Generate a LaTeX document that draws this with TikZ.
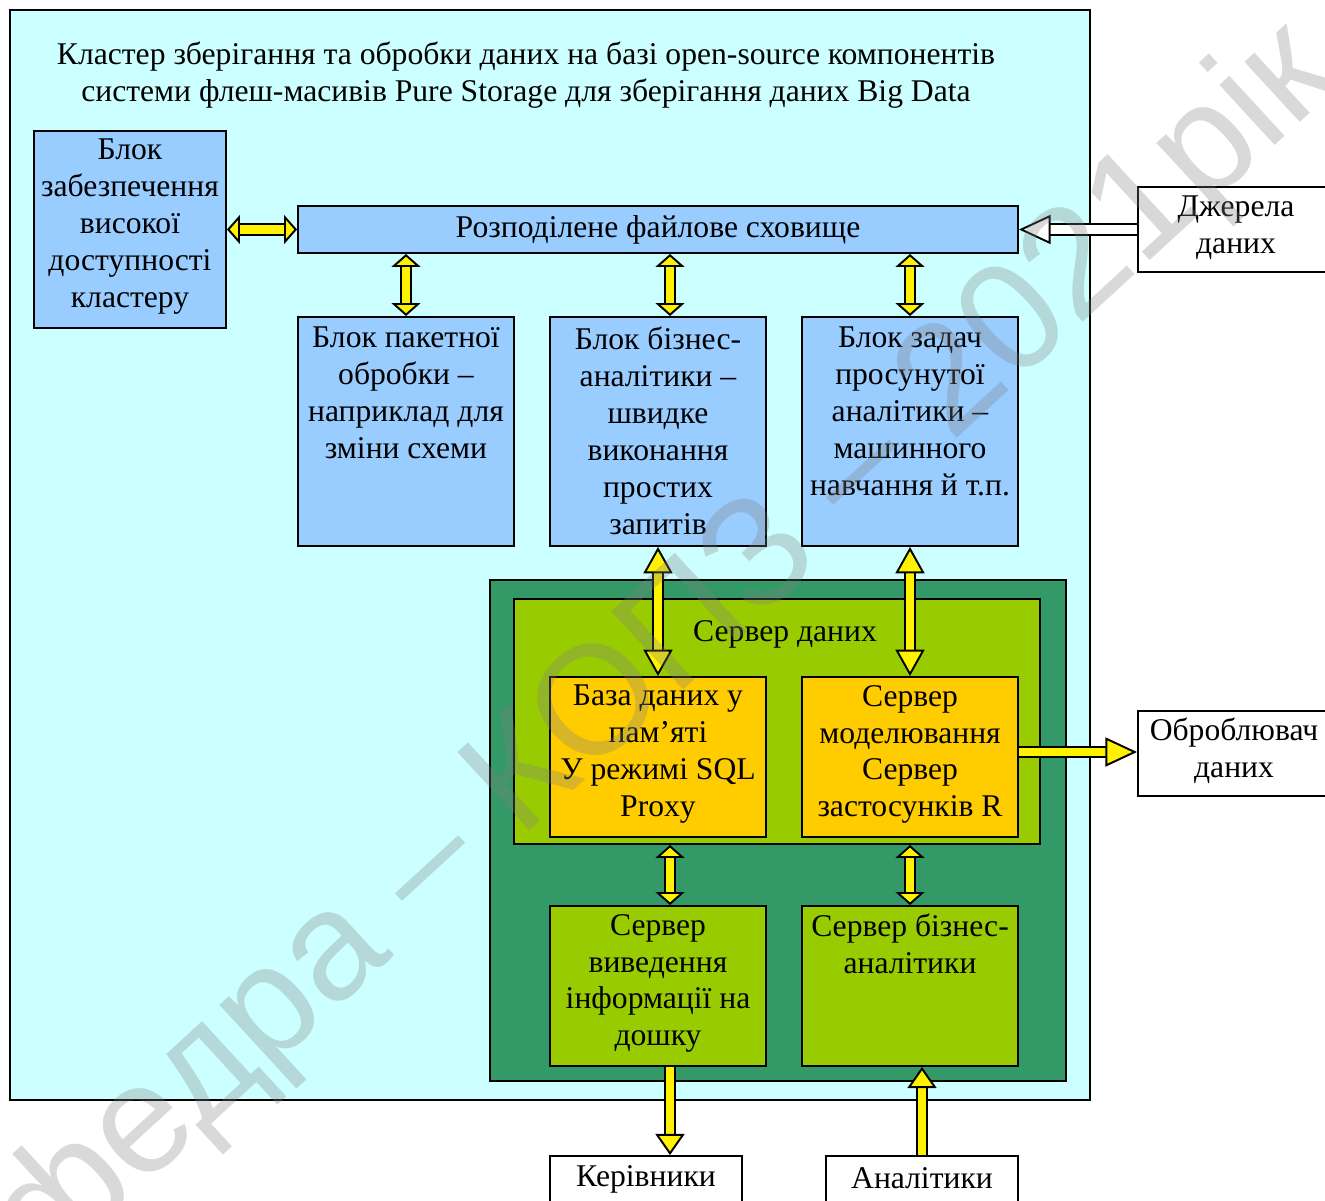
\documentclass[tikz,border=0pt]{standalone}
\usepackage{fontspec}
\setmainfont{Liberation Serif}
\newfontfamily\wmfont{Liberation Sans}
\usetikzlibrary{arrows.meta, fit}
\definecolor{clbg}{HTML}{CCFFFF}
\definecolor{blk}{HTML}{99CCFF}
\definecolor{srvdk}{HTML}{339966}
\definecolor{srvlt}{HTML}{99CC00}
\definecolor{orng}{HTML}{FFCC00}

\begin{document}
\begin{tikzpicture}[x=0.02cm,y=-0.02cm,font=\fontsize{18}{21}\selectfont,
    box/.style={draw,line width=1.1pt,inner sep=0pt},
    txt/.style={anchor=north,align=center,inner sep=0pt},
    fat/.style={line width=1.1pt,double=yellow,double distance=4.8pt,
      arrows={Triangle[length=#1,width=16.5pt,fill=yellow]-Triangle[length=#1,width=16.5pt,fill=yellow]}},
    fat/.default=7.4pt,
    fatto/.style={line width=1.1pt,double=yellow,double distance=4.8pt,
      arrows={-Triangle[length=#1,width=16.5pt,fill=yellow]}},
    fatto/.default=12pt,
    srcarrow/.style={line width=1.1pt,double=white,double distance=4.8pt,
      arrows={-Triangle[length=18pt,width=16.5pt,fill=white]}}]
  \useasboundingbox (0,0) rectangle (1325,1200);
  \node[box,fill=clbg,fit={(10,10) (1090,1100)}] (cluster) {};
  \node[align=center] (title) at (526,75) {Кластер зберігання та обробки даних на базі open-source компонентів\\системи флеш-масивів Pure Storage для зберігання даних Big Data};

  \node[box,fill=blk,fit={(34,131) (226,328)}] (ha) {};
  \node[txt] at ([yshift=-5pt]ha.north) {Блок\\забезпечення\\високої\\доступності\\кластеру};
  \node[box,fill=blk,fit={(298,206) (1018,253)}] (store) {};
  \node at (store) {Розподілене файлове сховище};

  \node[box,fill=blk,fit={(298,317) (514,546)}] (b1) {};
  \node[txt] at ([yshift=-6pt]b1.north) {Блок пакетної\\обробки –\\наприклад для\\зміни схеми};
  \node[box,fill=blk,fit={(550,317) (766,546)}] (b2) {};
  \node[txt] at ([yshift=-6pt]b2.north) {Блок бізнес-\\аналітики –\\швидке\\виконання\\простих\\запитів};
  \node[box,fill=blk,fit={(802,317) (1018,546)}] (b3) {};
  \node[txt] at ([yshift=-6pt]b3.north) {Блок задач\\просунутої\\аналітики –\\машинного\\навчання й т.п.};

  \node[box,fill=srvdk,fit={(490,580) (1066,1081)}] (srvout) {};
  \node[box,fill=srvlt,fit={(514,599) (1040,844)}] (srvin) {};
  \node at (785,634) {Сервер даних};
  \node[box,fill=orng,fit={(550,677) (766,837)}] (db) {};
  \node[txt] at ([yshift=-5pt]db.north) {База даних у\\пам’яті\\У режимі SQL\\Proxy};
  \node[box,fill=orng,fit={(802,677) (1018,837)}] (model) {};
  \node[txt] at ([yshift=-5pt]model.north) {Сервер\\моделювання\\Сервер\\застосунків R};
  \node[box,fill=srvlt,fit={(550,906) (766,1066)}] (vis) {};
  \node[txt] at ([yshift=-5pt]vis.north) {Сервер\\виведення\\інформації на\\дошку};
  \node[box,fill=srvlt,fit={(802,906) (1018,1066)}] (bi) {};
  \node[txt] at ([yshift=-5pt]bi.north) {Сервер бізнес-\\аналітики};

  \node[box,fill=white,fit={(1138,187) (1340,272)}] (src) {};
  \node[align=center] at (1236,228) {Джерела\\даних};
  \node[box,fill=white,fit={(1138,711) (1340,796)}] (proc) {};
  \node[align=center] at (1234,751) {Оброблювач\\даних};
  \node[box,fill=white,fit={(550,1156) (742,1215)}] (ker) {};
  \node at (646,1179) {Керівники};
  \node[box,fill=white,fit={(826,1156) (1018,1215)}] (anl) {};
  \node at (922,1178) {Аналітики};

  \coordinate (x2) at (670,0);
  \coordinate (y2) at (0,752);
  \draw[fat] (ha.east) -- (store.west);
  \draw[fat] (store.south -| b1.north) -- (b1.north);
  \draw[fat] (store.south -| x2) -- (b2.north -| x2);
  \draw[fat] (store.south -| b3.north) -- (b3.north);
  \draw[fat=15pt] (b2.south) -- (db.north);
  \draw[fat=15pt] (b3.south) -- (model.north);
  \draw[fat] (srvin.south -| x2) -- (vis.north -| x2);
  \draw[fat] (srvin.south -| bi.north) -- (bi.north);
  \draw[fatto] (vis.south -| x2) -- (ker.north -| x2);
  \draw[fatto] (anl.north) -- (anl.north |- bi.south);
  \draw[fatto=18pt] (model.east |- y2) -- (proc.west |- y2);
  \draw[srcarrow] (src.west |- store.east) -- (store.east);

  \node[rotate=42.6,font=\wmfont\fontsize{88}{88}\selectfont,text=gray,text opacity=0.3] (wm) at (610,703) {кафедра – КОПЗ – 2021рік};
\end{tikzpicture}
\end{document}
